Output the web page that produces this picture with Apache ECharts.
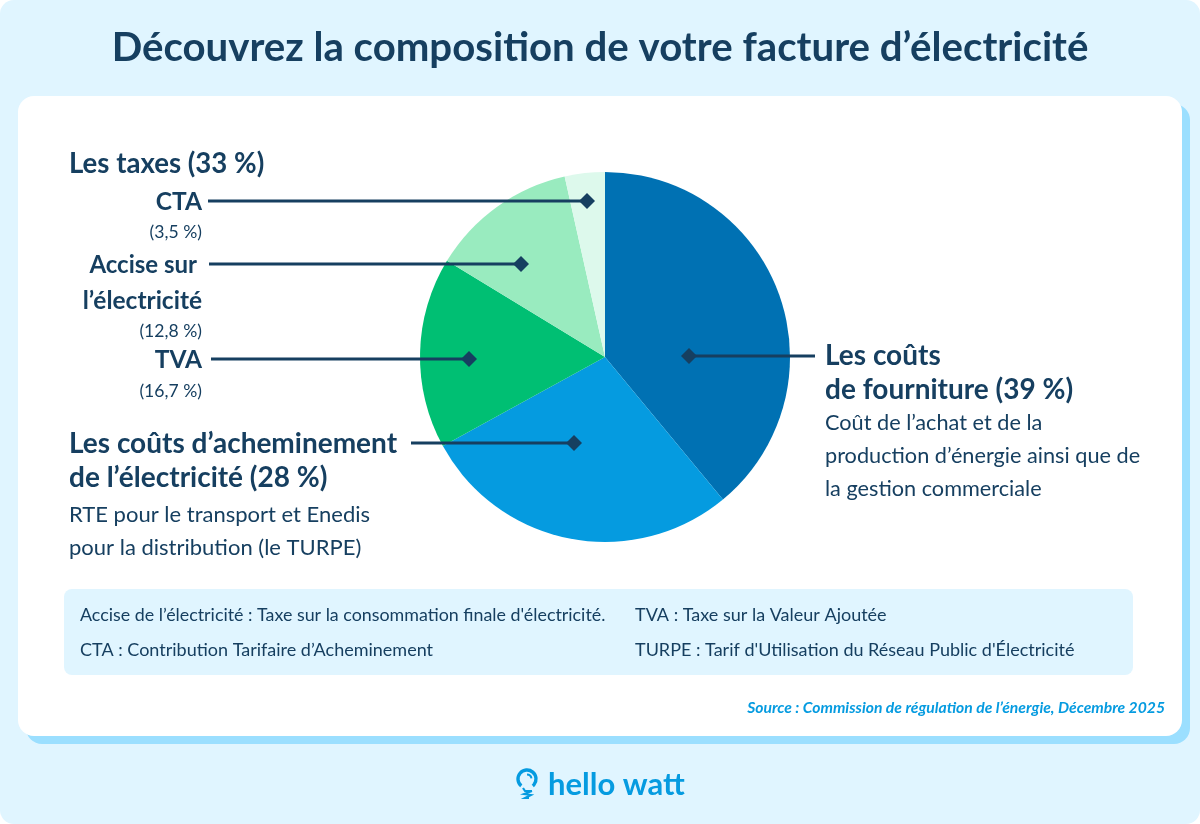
<!DOCTYPE html>
<html><head><meta charset="utf-8">
<style>html,body{margin:0;padding:0;background:#fff}#c{width:1200px;height:824px}</style>
<script src="https://cdn.jsdelivr.net/npm/echarts@6/dist/echarts.min.js"></script>
</head><body><div id="c"></div>
<script>
const categories = ["Les coûts de fourniture","Les coûts d’acheminement de l’électricité","TVA","Accise sur l’électricité","CTA"];
const values = [39,28,16.7,12.8,3.5];
const colors = ["#0071B3","#059BE0","#00BF73","#99EBBF","#DDF9EC"];
const NAVY="#163F60";
const F="Lato";
const BLUE="#059BE0";
const chart = echarts.init(document.getElementById('c'),null,{renderer:'canvas'});
function t(x,y,text,size,weight,opt){
  opt=opt||{};
  return {type:'text',z:opt.z||20,x:x,y:y,style:{text:text,fontFamily:F,fontSize:size,fontWeight:weight,fill:opt.fill||NAVY,align:opt.align||'left',verticalAlign:'middle',fontStyle:opt.italic?'italic':'normal'}};
}
function leader(x1,x2,y){
  return [{type:'line',z:15,shape:{x1:x1,y1:y,x2:x2,y2:y},style:{stroke:NAVY,lineWidth:3}},
          {type:'polygon',z:16,shape:{points:[[x2-8,y],[x2,y-8],[x2+8,y],[x2,y+8]]},style:{fill:NAVY}}];
}
const graphics=[
 {type:'rect',z:0,shape:{x:0,y:0,width:1200,height:824,r:14},style:{fill:'#E0F5FF'}},
 {type:'rect',z:1,shape:{x:26,y:104,width:1164,height:640,r:16},style:{fill:'#9BDFFF'}},
 {type:'rect',z:2,shape:{x:18,y:96,width:1164,height:640,r:16},style:{fill:'#FFFFFF'}},
 {type:'rect',z:3,shape:{x:64,y:589,width:1069,height:86,r:8},style:{fill:'#E0F5FF'}},
 t(600,48,"Découvrez la composition de votre facture d’électricité",40.2,700,{align:'center'}),
 t(69,164,"Les taxes (33 %)",27.6,700),
 t(202,202,"CTA",24.5,700,{align:'right'}),
 t(202,232,"(3,5 %)",17.6,400,{align:'right'}),
 t(197,265,"Accise sur",24,700,{align:'right'}),
 t(202,301,"l’électricité",24.5,700,{align:'right'}),
 t(202,331,"(12,8 %)",17.6,400,{align:'right'}),
 t(202,360,"TVA",24.5,700,{align:'right'}),
 t(202,391,"(16,7 %)",17.6,400,{align:'right'}),
 t(69,444,"Les coûts d’acheminement",28,700),
 t(69,478,"de l’électricité (28 %)",28,700),
 t(69,515,"RTE pour le transport et Enedis",22,400),
 t(69,548,"pour la distribution (le TURPE)",22,400),
 t(825,356,"Les coûts",28,700),
 t(825,390,"de fourniture (39 %)",28,700),
 t(825,423,"Coût de l’achat et de la",21.7,400),
 t(825,456,"production d’énergie ainsi que de",21.7,400),
 t(825,489,"la gestion commerciale",21.7,400),
 t(80,615,"Accise de l’électricité : Taxe sur la consommation finale d'électricité.",17.85,400),
 t(80,650,"CTA : Contribution Tarifaire d’Acheminement",18,400),
 t(635,615,"TVA : Taxe sur la Valeur Ajoutée",18,400),
 t(635,650,"TURPE : Tarif d'Utilisation du Réseau Public d'Électricité",18,400),
 t(1165,708,"Source : Commission de régulation de l’énergie, Décembre 2025",15.7,700,{align:'right',fill:BLUE,italic:true}),
 t(548,785,"hello watt",31,700,{fill:BLUE}),
 {type:'arc',z:20,shape:{cx:527,cy:779,r:9,startAngle:Math.PI*0.72,endAngle:Math.PI*0.28},style:{stroke:BLUE,lineWidth:3.4,fill:null}},
 {type:'arc',z:20,shape:{cx:527,cy:779,r:4.5,startAngle:-Math.PI*0.5,endAngle:-Math.PI*0.05},style:{stroke:BLUE,lineWidth:2,fill:null}},
 {type:'polyline',z:20,shape:{points:[[523,788],[525,791],[532,791]]},style:{stroke:BLUE,lineWidth:2.2,fill:null}},
 {type:'polyline',z:20,shape:{points:[[532,791],[524,794],[531,795],[525,798],[529,798]]},style:{stroke:BLUE,lineWidth:2,fill:null}},
 ...leader(208,587,201),
 ...leader(209,521,264),
 ...leader(211,469,359),
 ...leader(411,574,443),
 ...leader(815,689,356)
];
chart.setOption({
 animation:false,
 graphic:{elements:graphics},
 series:[{type:'pie',z:10,center:[605,357],radius:[0,185],startAngle:90,clockwise:true,silent:true,
  label:{show:false},labelLine:{show:false},itemStyle:{borderWidth:0},
  data:categories.map((n,i)=>({name:n,value:values[i],itemStyle:{color:colors[i]}}))}]
});
</script></body></html>
